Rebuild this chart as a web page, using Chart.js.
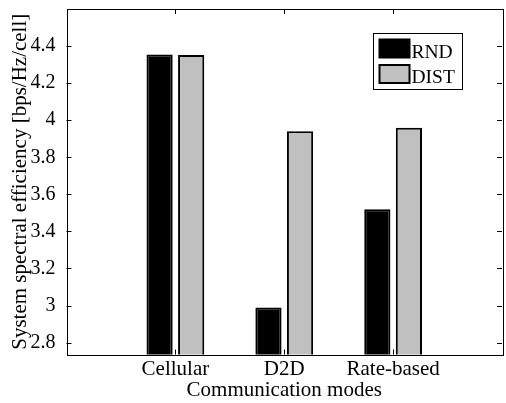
<!DOCTYPE html>
<html>
<head>
<meta charset="utf-8">
<script src="https://cdn.jsdelivr.net/npm/chart.js@4"></script>
<style>
  html, body { margin: 0; padding: 0; background: #fff; }
</style>
</head>
<body>
<canvas id="theChart" width="506" height="403"></canvas>
<script>
'use strict';
// values
var categories = ['Cellular', 'D2D', 'Rate-based'];
var seriesNames = ['RND', 'DIST'];
var rndValues = [4.355, 2.99, 3.52];
var distValues = [4.352, 3.94, 3.96];
var yTicks = [2.8, 3, 3.2, 3.4, 3.6, 3.8, 4, 4.2, 4.4];
var yMin = 2.736;
var yMax = 4.6;

var serif = 'Liberation Serif, Times New Roman, serif';
var fillColors = ['#000000', '#c0c0c0'];

// empty slots at both ends so the axis runs from 0 to 4 like matlab
function pad(arr) {
    return [null].concat(arr).concat([null]);
}
var labels = pad(categories).map(function (c) { return c === null ? '' : c; });

// frame, inward ticks and the boxed legend
var matlabAxes = {
    id: 'matlabAxes',
    afterDraw: function (chart) {
        var ctx = chart.ctx;
        var a = chart.chartArea;
        var xs = chart.scales.x;
        var ys = chart.scales.y;
        ctx.save();
        ctx.strokeStyle = '#000';
        ctx.lineWidth = 1;
        ctx.beginPath();
        for (var i = 0; i < yTicks.length; i++) {
            var y = Math.round(ys.getPixelForValue(yTicks[i])) + 0.5;
            ctx.moveTo(a.left, y); ctx.lineTo(a.left + 5, y);
            ctx.moveTo(a.right, y); ctx.lineTo(a.right - 5, y);
        }
        for (var j = 1; j <= categories.length; j++) {
            var x = Math.round(xs.getPixelForValue(j)) + 0.5;
            ctx.moveTo(x, a.top); ctx.lineTo(x, a.top + 5);
            ctx.moveTo(x, a.bottom); ctx.lineTo(x, a.bottom - 5);
        }
        ctx.stroke();
        ctx.strokeRect(Math.round(a.left) + 0.5, Math.round(a.top) + 0.5,
            Math.round(a.right - a.left), Math.round(a.bottom - a.top));

        // legend
        var lx = Math.round(a.right - 129) + 0.5;
        var ly = Math.round(a.top + 24) + 0.5;
        ctx.fillStyle = '#fff';
        ctx.fillRect(lx, ly, 89, 56);
        ctx.strokeRect(lx, ly, 89, 56);
        ctx.font = '19.5px ' + serif;
        ctx.textBaseline = 'alphabetic';
        ctx.textAlign = 'left';
        for (var k = 0; k < seriesNames.length; k++) {
            var sy = ly + 6 + k * 25.5;
            ctx.fillStyle = fillColors[k];
            ctx.fillRect(lx + 6, sy, 30, 18);
            ctx.lineWidth = 2;
            ctx.strokeRect(lx + 6, sy, 30, 18);
            ctx.fillStyle = '#000';
            ctx.fillText(seriesNames[k], lx + 38, sy + 18);
        }
        ctx.restore();
    }
};

var ctx = document.getElementById('theChart').getContext('2d');
var chart = new Chart(ctx, {
    type: 'bar',
    data: {
        labels: labels,
        datasets: [
            {
                label: seriesNames[0],
                data: pad(rndValues),
                backgroundColor: fillColors[0],
                borderColor: '#000',
                borderWidth: 2
            },
            {
                label: seriesNames[1],
                data: pad(distValues),
                backgroundColor: fillColors[1],
                borderColor: '#000',
                borderWidth: 2
            }
        ]
    },
    options: {
        responsive: false,
        animation: false,
        devicePixelRatio: 1,
        categoryPercentage: 0.58,
        barPercentage: 0.83,
        layout: { padding: { top: 9, right: 4, left: 0, bottom: 0 } },
        plugins: {
            legend: { display: false },
            tooltip: { enabled: false }
        },
        scales: {
            x: {
                type: 'category',
                offset: false,
                grid: { display: false },
                border: { display: false },
                ticks: {
                    color: '#000',
                    font: { family: serif, size: 21 },
                    padding: -5.5,
                    maxRotation: 0,
                    autoSkip: false
                },
                title: {
                    display: true,
                    text: 'Communication modes',
                    color: '#000',
                    font: { family: serif, size: 21 },
                    padding: { top: 0, bottom: 0 }
                },
                afterFit: function (scale) {
                    scale.height = 48.5;
                    scale.paddingLeft = 0;
                    scale.paddingRight = 0;
                }
            },
            y: {
                min: yMin,
                max: yMax,
                grid: { display: false },
                border: { display: false },
                afterBuildTicks: function (scale) {
                    scale.ticks = yTicks.map(function (v) { return { value: v }; });
                },
                ticks: {
                    color: '#000',
                    font: { family: serif, size: 20 },
                    padding: 3,
                    callback: function (value) { return String(parseFloat(value.toFixed(1))); }
                },
                title: {
                    display: true,
                    text: 'System spectral efficiency [bps/Hz/cell]',
                    color: '#000',
                    font: { family: serif, size: 21 },
                    padding: { top: 7.5, bottom: 0 }
                },
                afterFit: function (scale) {
                    scale.width = 66.5;
                    scale.paddingTop = 0;
                    scale.paddingBottom = 0;
                }
            }
        }
    },
    plugins: [matlabAxes]
});
</script>
</body>
</html>
